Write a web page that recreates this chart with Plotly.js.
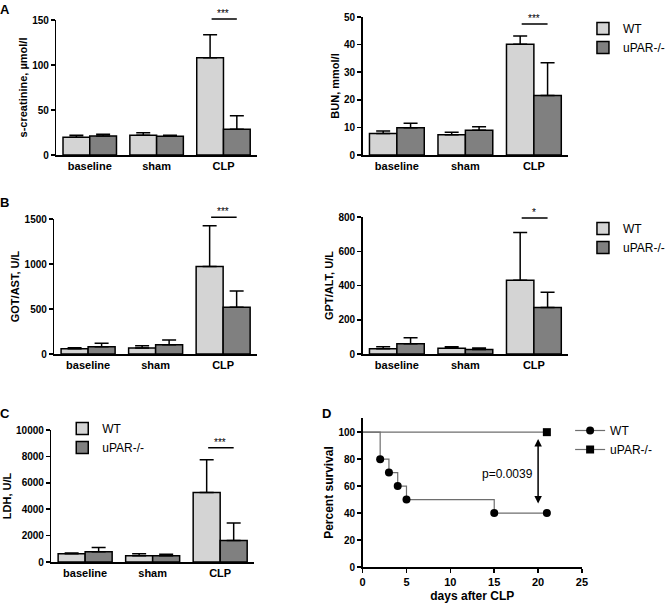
<!DOCTYPE html>
<html>
<head>
<meta charset="utf-8">
<script src="https://cdn.plot.ly/plotly-3.0.1.min.js"></script>
<style>html,body{margin:0;padding:0;background:#fff;}#chart{width:670px;height:603px;}</style>
</head>
<body>
<div id="chart"></div>
<script>
// ---------- data ----------
const groups = ['baseline', 'sham', 'CLP'];

const creatWT = [19.6, 21.9, 108];
const creatWTerr = [2.3, 2.9, 25.7];
const creatKO = [21.1, 20.7, 28.5];
const creatKOerr = [1.9, 1.2, 15.2];

const bunWT = [7.8, 7.35, 40.1];
const bunWTerr = [0.9, 0.85, 3.0];
const bunKO = [9.9, 9.0, 21.6];
const bunKOerr = [1.6, 1.2, 11.8];

const astWT = [59, 67, 972];
const astWTerr = [11, 26, 453];
const astKO = [81, 104, 520];
const astKOerr = [38, 52, 181];

const altWT = [31, 33, 431];
const altWTerr = [12, 10, 278];
const altKO = [60, 27, 272];
const altKOerr = [35, 8, 88];

const ldhWT = [629, 477, 5273];
const ldhWTerr = [51, 153, 2477];
const ldhKO = [780, 477, 1636];
const ldhKOerr = [326, 103, 1319];

const survDaysWT = [0, 2, 3, 4, 5, 15, 21];
const survWT = [100, 80, 70, 60, 50, 40, 40];
const survDaysKO = [0, 21];
const survKO = [100, 100];

// significance markers: [label, y level]
const sigCreat = ['***', 151];
const sigBun = ['***', 47.5];
const sigAst = ['***', 1520];
const sigAlt = ['*', 794];
const sigLdh = ['***', 8650];
const pText = 'p=0.0039';

// ---------- styling ----------
const FONT = 'Liberation Sans, Arial, sans-serif';
const cWT = '#d4d4d4';
const cKO = '#808080';

function barPair(xa, ya, wt, wtErr, ko, koErr, legendId) {
  const mk = (name, y, err, col) => ({
    type: 'bar', name: name, x: groups, y: y,
    xaxis: xa, yaxis: ya,
    marker: {color: col, line: {color: '#000', width: 1.5}},
    error_y: {type: 'data', array: err, arrayminus: err.map(() => 0), symmetric: false,
              color: '#000', thickness: 1.5, width: 7},
    showlegend: !!legendId, legend: legendId || 'legend',
    hoverinfo: 'skip'
  });
  return [mk('WT', wt, wtErr, cWT), mk('uPAR-/-', ko, koErr, cKO)];
}

const traces = [].concat(
  barPair('x', 'y', creatWT, creatWTerr, creatKO, creatKOerr, null),
  barPair('x2', 'y2', bunWT, bunWTerr, bunKO, bunKOerr, 'legend'),
  barPair('x3', 'y3', astWT, astWTerr, astKO, astKOerr, null),
  barPair('x4', 'y4', altWT, altWTerr, altKO, altKOerr, 'legend2'),
  barPair('x5', 'y5', ldhWT, ldhWTerr, ldhKO, ldhKOerr, 'legend3')
);

// survival curves (step lines)
traces.push({type: 'scatter', mode: 'lines', x: survDaysWT, y: survWT, xaxis: 'x6', yaxis: 'y6',
  line: {shape: 'hv', color: '#6e6e6e', width: 1.2}, showlegend: false, hoverinfo: 'skip'});
traces.push({type: 'scatter', mode: 'lines', x: survDaysKO, y: survKO, xaxis: 'x6', yaxis: 'y6',
  line: {shape: 'hv', color: '#6e6e6e', width: 1.2}, showlegend: false, hoverinfo: 'skip'});
// event markers (gap-separated so no connecting line is drawn)
function gapped(arr) { const out = []; arr.forEach((v, i) => { if (i) out.push(null); out.push(v); }); return out; }
traces.push({type: 'scatter', mode: 'lines+markers', name: 'WT',
  x: gapped(survDaysWT.slice(1)), y: gapped(survWT.slice(1)), connectgaps: false,
  xaxis: 'x6', yaxis: 'y6', cliponaxis: false,
  marker: {symbol: 'circle', size: 8, color: '#000'}, line: {color: '#6e6e6e', width: 1.2},
  legend: 'legend4', hoverinfo: 'skip'});
traces.push({type: 'scatter', mode: 'lines+markers', name: 'uPAR-/-',
  x: survDaysKO.slice(1), y: survKO.slice(1),
  xaxis: 'x6', yaxis: 'y6', cliponaxis: false,
  marker: {symbol: 'square', size: 8, color: '#000'}, line: {color: '#6e6e6e', width: 1.2},
  legend: 'legend4', hoverinfo: 'skip'});

// ---------- axes ----------
const W = 670, H = 603;
const px = v => v / W;
const py = v => 1 - v / H;

const tickFont = {family: FONT, size: 10, color: '#000', weight: 'bold'};
const catFont = {family: FONT, size: 11, color: '#000', weight: 'bold'};
const titleFont = {family: FONT, size: 11, color: '#000', weight: 'bold'};

function catAxis(x0, x1, anchor) {
  return {domain: [px(x0), px(x1)], anchor: anchor, type: 'category', range: [-0.5, 2.5],
    showline: true, linecolor: '#000', linewidth: 1.5, ticks: '', showgrid: false, zeroline: false,
    tickfont: catFont, fixedrange: true};
}
function valAxis(y0, y1, anchor, max, dtick, title) {
  return {domain: [py(y0), py(y1)], anchor: anchor, range: [0, max], dtick: dtick, tickformat: 'd',
    showline: true, linecolor: '#000', linewidth: 1.5, ticks: 'outside', ticklen: 4,
    tickwidth: 1.5, tickcolor: '#000', showgrid: false, zeroline: false,
    tickfont: tickFont, title: {text: title, font: titleFont, standoff: 2}, fixedrange: true};
}

const layout = {
  width: W, height: H,
  margin: {l: 0, r: 0, t: 0, b: 0},
  paper_bgcolor: '#fff', plot_bgcolor: 'rgba(0,0,0,0)',
  barmode: 'group', bargap: 0.2, bargroupgap: 0,
  font: {family: FONT, color: '#000'},
  xaxis: catAxis(57, 260, 'y'),
  yaxis: valAxis(155, 20, 'x', 150, 50, 's-creatinine, µmol/l'),
  xaxis2: catAxis(367, 575, 'y2'),
  yaxis2: valAxis(155, 17, 'x2', 50, 10, 'BUN, mmol/l'),
  xaxis3: catAxis(55, 260, 'y3'),
  yaxis3: valAxis(354, 219, 'x3', 1500, 500, 'GOT/AST, U/L'),
  xaxis4: catAxis(367, 575, 'y4'),
  yaxis4: valAxis(354, 217, 'x4', 800, 200, 'GPT/ALT, U/L'),
  xaxis5: catAxis(52, 257, 'y5'),
  yaxis5: valAxis(562, 430, 'x5', 10000, 2000, 'LDH, U/L'),
  xaxis6: {domain: [px(367), px(589)], anchor: 'y6', range: [0, 25], dtick: 5,
    showline: true, linecolor: '#000', linewidth: 1.5, ticks: 'outside', ticklen: 4, tickwidth: 1.5,
    tickcolor: '#000', showgrid: false, zeroline: false, tickfont: {family: FONT, size: 11, color: '#000', weight: 'bold'},
    title: {text: 'days after CLP', font: {family: FONT, size: 12, color: '#000', weight: 'bold'}, standoff: 6}, fixedrange: true},
  yaxis6: {domain: [py(567), py(418)], anchor: 'x6', range: [0, 110.5], tickvals: [0, 20, 40, 60, 80, 100],
    showline: true, linecolor: '#000', linewidth: 1.5, ticks: 'outside', ticklen: 4, tickwidth: 1.5,
    tickcolor: '#000', showgrid: false, zeroline: false, tickfont: tickFont,
    title: {text: 'Percent survival', font: {family: FONT, size: 12, color: '#000', weight: 'bold'}, standoff: 2}, fixedrange: true},
  legend: {x: px(590), y: py(14), xanchor: 'left', yanchor: 'top', bgcolor: 'rgba(0,0,0,0)',
    font: {family: FONT, size: 12, color: '#000'}, tracegroupgap: 0},
  legend2: {x: px(590), y: py(214), xanchor: 'left', yanchor: 'top', bgcolor: 'rgba(0,0,0,0)',
    font: {family: FONT, size: 12, color: '#000'}, tracegroupgap: 0},
  legend3: {x: px(63), y: py(414), xanchor: 'left', yanchor: 'top', bgcolor: 'rgba(0,0,0,0)',
    font: {family: FONT, size: 12, color: '#000'}, tracegroupgap: 0},
  legend4: {x: px(577), y: py(416), xanchor: 'left', yanchor: 'top', bgcolor: 'rgba(0,0,0,0)',
    font: {family: FONT, size: 12, color: '#000'}, tracegroupgap: 0},
  annotations: [],
  showlegend: true
};

function sig(xa, ya, s, max) {
  const yd = ya + ' domain';
  const f = s[1] / max;
  layout.annotations.push({xref: xa, yref: yd, axref: xa, ayref: 'pixel', x: 2.2, y: f, ax: 1.8, ay: 0,
    text: '', showarrow: true, arrowhead: 0, arrowwidth: 1.5, arrowcolor: '#000', standoff: 0, startstandoff: 0});
  layout.annotations.push({xref: xa, yref: yd, x: 2, y: f, text: s[0], showarrow: false,
    yanchor: 'bottom', yshift: -2, font: {family: FONT, size: 10, color: '#000'}});
}
sig('x', 'y', sigCreat, 150);
sig('x2', 'y2', sigBun, 50);
sig('x3', 'y3', sigAst, 1500);
sig('x4', 'y4', sigAlt, 800);
sig('x5', 'y5', sigLdh, 10000);

// survival p-value arrow
layout.annotations.push({xref: 'x6', yref: 'y6', axref: 'x6', ayref: 'y6', x: 20, y: 95, ax: 20, ay: 46,
  text: '', showarrow: true, arrowhead: 2, arrowsize: 1, arrowwidth: 1.5, arrowside: 'end+start',
  arrowcolor: '#000', standoff: 0, startstandoff: 0});
layout.annotations.push({xref: 'x6', yref: 'y6', x: 19.6, y: 69, text: pText, showarrow: false,
  xanchor: 'right', font: {family: FONT, size: 12, color: '#000'}});

// panel letters
[['A', 5, 9], ['B', 5, 202], ['C', 5, 413], ['D', 330, 413]].forEach(p => {
  layout.annotations.push({xref: 'paper', yref: 'paper', x: px(p[1]), y: py(p[2]), text: p[0],
    showarrow: false, xanchor: 'center', yanchor: 'middle',
    font: {family: FONT, size: 13, color: '#000', weight: 'bold'}});
});

Plotly.newPlot('chart', traces, layout, {staticPlot: true, displayModeBar: false});
</script>
</body>
</html>
